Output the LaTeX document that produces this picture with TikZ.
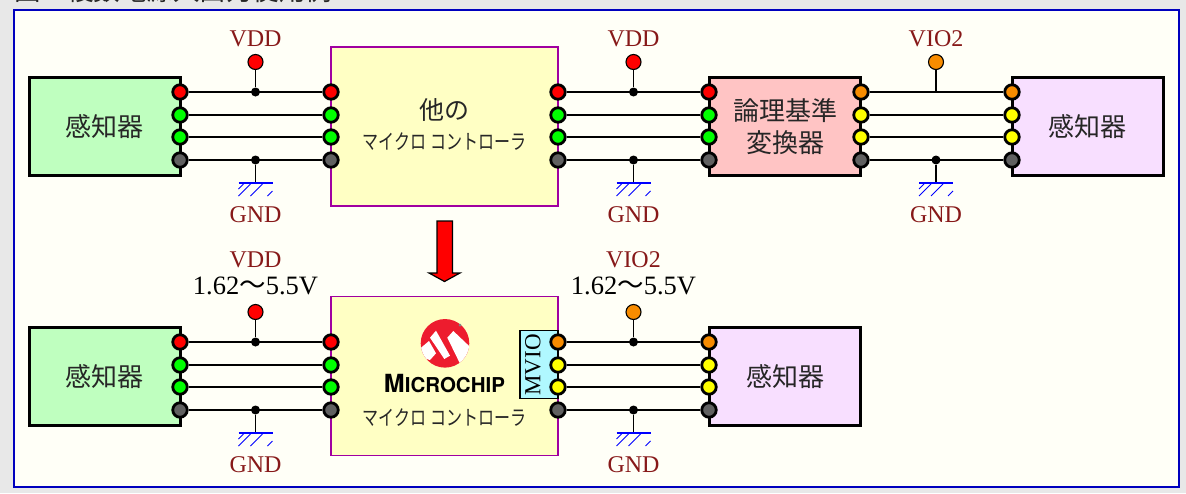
\documentclass[tikz,border=0pt]{standalone}
\usepackage{fontspec}
\setmainfont{Liberation Serif}
\newfontfamily\cjk{Noto Sans CJK JP}
\usetikzlibrary{calc}
\definecolor{pageback}{RGB}{232,232,232}
\definecolor{panelback}{RGB}{255,255,247}
\definecolor{panelline}{RGB}{0,0,190}
\definecolor{labelred}{RGB}{135,25,25}
\definecolor{chipback}{RGB}{255,255,196}
\definecolor{chipline}{RGB}{160,0,160}
\definecolor{sensgreen}{RGB}{191,255,191}
\definecolor{senspurple}{RGB}{248,223,255}
\definecolor{convpink}{RGB}{255,196,196}
\definecolor{mvioback}{RGB}{176,248,255}
\definecolor{pinred}{RGB}{255,0,0}
\definecolor{pingreen}{RGB}{0,255,0}
\definecolor{pingrey}{RGB}{96,96,96}
\definecolor{pinorange}{RGB}{248,140,0}
\definecolor{pinyellow}{RGB}{255,255,0}
\definecolor{logored}{RGB}{237,28,46}
\tikzset{
  x=1pt,y=-1pt,
  pin/.style={circle,draw=black,line width=2.8pt,inner sep=0pt,minimum size=14.5pt},
  railpin/.style={circle,draw=black,line width=1.1pt,inner sep=0pt,minimum size=15pt},
  joint/.style={circle,fill=black,inner sep=0pt,minimum size=9pt},
  wire/.style={line width=1.7pt},
  sensbox/.style={draw=black,line width=3pt,inner sep=0pt},
  chipbox/.style={draw=chipline,line width=1.2pt,fill=chipback,inner sep=0pt},
  rail/.style={text=labelred,font=\fontsize{24}{26}\selectfont},
  boxtext/.style={font=\cjk\fontsize{26}{31.5}\selectfont,align=center,text=black!85},
  voltage/.style={font=\fontsize{26.5}{28}\selectfont},
  subtext/.style={font=\cjk\fontsize{16}{18}\selectfont,text=black!85},
}
% four pins in one column
\newcommand{\pincol}[7]{%
  \node[pin,fill=#4] (#1a) at (#2,#3) {};
  \node[pin,fill=#5] (#1b) at (#2,#3+23) {};
  \node[pin,fill=#6] (#1c) at (#2,#3+45) {};
  \node[pin,fill=#7] (#1d) at (#2,#3+68) {};
}
\newcommand{\wires}[2]{%
  \draw[wire] (#1a) -- (#2a);
  \draw[wire] (#1b) -- (#2b);
  \draw[wire] (#1c) -- (#2c);
  \draw[wire] (#1d) -- (#2d);
}
% ground symbol below a wire
\newcommand{\gnd}[3]{%
  \node[joint] (#1j) at (#2,#3) {};
  \coordinate (#1g) at (#2,#3+23);
  \draw[wire] (#1j) -- (#1g);
  \draw[blue,line width=2pt] ($(#1g)+(-17,0)$) -- ($(#1g)+(17,0)$);
  \foreach \dx in {-5,7} {
    \draw[blue,line width=1pt] ($(#1g)+(\dx,1)$) -- ($(#1g)+(\dx-12,13)$);
  }
  \draw[blue,line width=1pt] ($(#1g)+(-12,1)$) -- ($(#1g)+(-17,6)$);
  \draw[blue,line width=1pt] ($(#1g)+(17,8)$) -- ($(#1g)+(12,13)$);
  \node[rail] (#1l) at (#2,#3+55) {GND};
}
\begin{document}
\begin{tikzpicture}
  \useasboundingbox (0,0) rectangle (1186,493);
  \fill[pageback] (0,0) rectangle (1186,493);
  \begin{scope}
    \clip (0,0) rectangle (1186,493);
    \node[anchor=base west,inner sep=0pt,font=\cjk\fontsize{26.5}{28}\selectfont,text=black!85] (title) at (14,0) {図1\hspace{12pt}複数電源入出力使用例};
  \end{scope}
  \draw[panelline,fill=panelback,line width=2pt] (13.5,9.5) rectangle (1178.5,486.5);

  % Boxes
  \node[sensbox,fill=sensgreen,minimum width=151pt,minimum height=98pt,boxtext] (sensa) at (104.5,126.5) {感知器};
  \node[chipbox,minimum width=227pt,minimum height=159pt] (chipa) at (444.5,126.5) {};
  \node[sensbox,fill=convpink,minimum width=151pt,minimum height=98pt,boxtext] (conv) at (785,126.5) {論理基準\\変換器};
  \node[sensbox,fill=senspurple,minimum width=151pt,minimum height=98pt,boxtext] (sensb) at (1087.5,126.5) {感知器};
  \node[sensbox,fill=sensgreen,minimum width=151pt,minimum height=98pt,boxtext] (sensc) at (104.5,376.5) {感知器};
  \node[chipbox,minimum width=227pt,minimum height=159pt] (chipb) at (444.5,376) {};
  \node[sensbox,fill=senspurple,minimum width=151pt,minimum height=98pt,boxtext] (sensd) at (785,376.5) {感知器};
  \node[font=\cjk\fontsize{25}{27}\selectfont,text=black!85] (chipaname) at (444.5,110) {他の};
  \node[subtext] (chipasub) at (444.5,142) {\scalebox{1}[1.3]{マイクロ コントローラ}};
  \node[subtext] (chipbsub) at (444.5,418) {\scalebox{1}[1.3]{マイクロ コントローラ}};
  \node[draw=black,line width=1.2pt,fill=mvioback,minimum width=38pt,minimum height=68pt,inner sep=0pt] (mvio) at (539,364.5) {};
  \node[rotate=90,inner sep=0pt,font=\fontsize{23}{25}\selectfont] (mviotext) at (533,365) {MVIO};

  % Logo
  \begin{scope}[shift={(410,315)},x=0.3333pt,y=-0.3333pt]
    \begin{scope}
      \clip (105,85) circle (24.3pt);
      \fill[logored] (30,10) rectangle (180,160);
      \fill[white] (57,78) -- (78,115) -- (60,135) -- (25,125) -- (25,105) -- cycle;
      \fill[white] (60,68) -- (78,47) -- (120,122) -- (103,132) -- cycle;
      \fill[white] (112,68) -- (130,48) -- (190,105) -- (152,150) -- cycle;
    \end{scope}
    \fill[black!50] (150,30) circle (1.5pt);
  \end{scope}
  \node[inner sep=0pt,font=\fontspec{TeX Gyre Heros}\bfseries\fontsize{25}{28}\selectfont] (logoname) at (444.5,384) {M\fontsize{20.5}{28}\selectfont ICROCHIP};

  % Pins, top row
  \pincol{pa}{180}{92}{pinred}{pingreen}{pingreen}{pingrey}
  \pincol{pb}{331}{92}{pinred}{pingreen}{pingreen}{pingrey}
  \pincol{pc}{558}{92}{pinred}{pingreen}{pingreen}{pingrey}
  \pincol{pd}{709}{92}{pinred}{pingreen}{pingreen}{pingrey}
  \pincol{pe}{861}{92}{pinorange}{pinyellow}{pinyellow}{pingrey}
  \pincol{pf}{1012}{92}{pinorange}{pinyellow}{pinyellow}{pingrey}
  \wires{pa}{pb}
  \wires{pc}{pd}
  \wires{pe}{pf}
  % Pins, bottom row
  \pincol{qa}{180}{342}{pinred}{pingreen}{pingreen}{pingrey}
  \pincol{qb}{331}{342}{pinred}{pingreen}{pingreen}{pingrey}
  \pincol{qc}{558}{342}{pinorange}{pinyellow}{pinyellow}{pingrey}
  \pincol{qd}{709}{342}{pinorange}{pinyellow}{pinyellow}{pingrey}
  \wires{qa}{qb}
  \wires{qc}{qd}

  % Rails
  \node[joint] (ja) at (255.5,92) {};
  \node[railpin,fill=pinred] (ra) at (255.5,62) {};
  \draw[wire] (ra) -- (ja);
  \node[rail] (la) at (255.5,39) {VDD};
  \node[joint] (jb) at (633.5,92) {};
  \node[railpin,fill=pinred] (rb) at (633.5,62) {};
  \draw[wire] (rb) -- (jb);
  \node[rail] (lb) at (633.5,39) {VDD};
  \coordinate (jc) at (936,92);
  \node[railpin,fill=pinorange] (rc) at (936,62) {};
  \draw[wire] (rc) -- (jc);
  \node[rail] (lc) at (936,39) {VIO2};
  \node[joint] (jd) at (255.5,342) {};
  \node[railpin,fill=pinred] (rd) at (255.5,312) {};
  \draw[wire] (rd) -- (jd);
  \node[rail] (ld) at (255.5,260) {VDD};
  \node[voltage] (vd) at (255.5,286) {1.62{\cjk\char"301C}5.5V};
  \node[joint] (je) at (633.5,342) {};
  \node[railpin,fill=pinorange] (re) at (633.5,312) {};
  \draw[wire] (re) -- (je);
  \node[rail] (le) at (633.5,260) {VIO2};
  \node[voltage] (ve) at (633.5,286) {1.62{\cjk\char"301C}5.5V};
  \gnd{ga}{255.5}{160}
  \gnd{gb}{633.5}{160}
  \gnd{gc}{936}{160}
  \gnd{gd}{255.5}{410}
  \gnd{ge}{633.5}{410}

  % Arrow
  \fill[pinred,draw=black,line width=1.2pt] (437,221) -- (452.5,221) -- (452.5,273) -- (460,273) -- (444.5,281.5) -- (429,273) -- (437,273) -- cycle;
\end{tikzpicture}
\end{document}
